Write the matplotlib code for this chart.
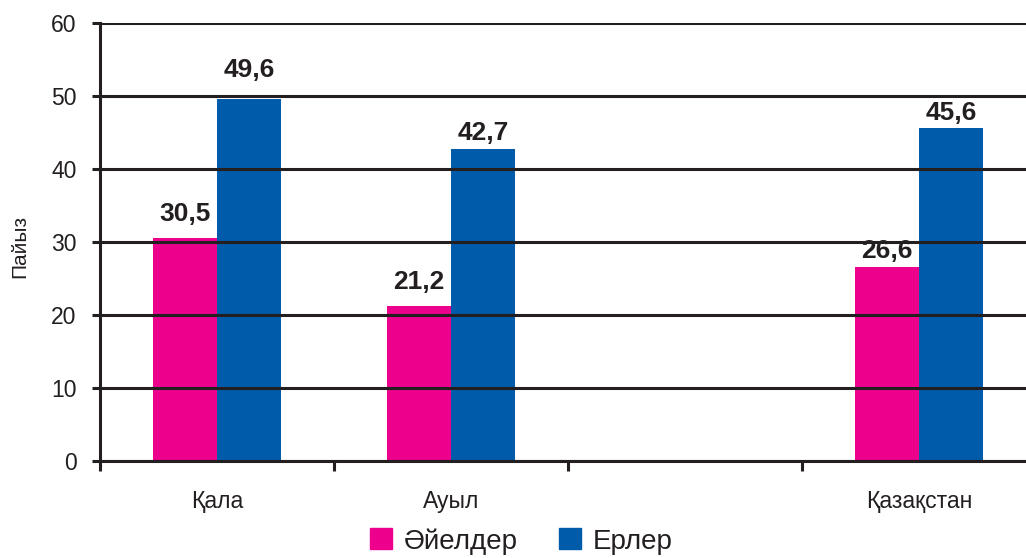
import numpy as np
import matplotlib.pyplot as plt
from matplotlib.patches import Patch

plt.rcParams['font.family'] = ['Liberation Sans', 'DejaVu Sans']

CATEGORIES = ['Қала', 'Ауыл', '', 'Қазақстан']
WOMEN = [30.5, 21.2, np.nan, 26.6]
MEN = [49.6, 42.7, np.nan, 45.6]
SERIES = ['Әйелдер', 'Ерлер']
YTICKS = [0, 10, 20, 30, 40, 50, 60]

# gap (px) between bar top and value label, as placed in the original
GAP_WOMEN = [17, 17, 0, 9]
GAP_MEN = [22, 9, 0, 8]

PINK = '#ec008c'
BLUE = '#005baa'
DARK = '#231f20'

fig = plt.figure(figsize=(10.26, 5.58), dpi=100)
ax = fig.add_axes([0.0975, 0.1738, 0.9025, 0.785])

x = np.arange(len(CATEGORIES))
w = 0.275
b1 = ax.bar(x - w / 2, WOMEN, w, color=PINK, zorder=1)
b2 = ax.bar(x + w / 2, MEN, w, color=BLUE, zorder=1)

for bars, vals, gaps in [(b1, WOMEN, GAP_WOMEN), (b2, MEN, GAP_MEN)]:
    for rect, v, g in zip(bars, vals, gaps):
        if np.isnan(v):
            continue
        ax.annotate(('%.1f' % v).replace('.', ','),
                    (rect.get_x() + rect.get_width() / 2, v),
                    xytext=(0, g * 0.72), textcoords='offset points',
                    ha='center', va='baseline', fontsize=19, fontweight='bold',
                    color=DARK, zorder=6)

ax.set_ylim(0, 60)
ax.set_xlim(-0.5, 3.457)
ax.set_yticks(YTICKS)
ax.yaxis.grid(True, color=DARK, linewidth=2.2, zorder=3)
ax.set_axisbelow(False)

# boundaries as major ticks, names as minor ticks
ax.set_xticks(np.arange(len(CATEGORIES)) - 0.5)
ax.set_xticklabels([])
ax.set_xticks(x, minor=True)
ax.set_xticklabels(CATEGORIES, minor=True, fontsize=16.5, color=DARK)
ax.tick_params(axis='x', which='minor', length=0, pad=21)
ax.tick_params(axis='x', which='major', length=7, width=2.2, color=DARK)
ax.tick_params(axis='y', length=6, width=2.2, color=DARK, labelsize=16.5,
               labelcolor=DARK, pad=11)

for s in ['top', 'right']:
    ax.spines[s].set_visible(False)
for s in ['left', 'bottom']:
    ax.spines[s].set_linewidth(2.2)
    ax.spines[s].set_color(DARK)
    ax.spines[s].set_zorder(4)

ax.set_ylabel('Пайыз', fontsize=15, color=DARK)
ax.yaxis.set_label_coords(-0.076, 0.49)

handles = [Patch(color=PINK), Patch(color=BLUE)]
fig.legend(handles, SERIES, loc='center', bbox_to_anchor=(0.508, 0.03),
           ncol=2, frameon=False, fontsize=20, handlelength=0.8,
           handleheight=0.8, handletextpad=0.4, columnspacing=1.5,
           labelcolor=DARK)

fig.savefig('out.png', dpi=100)
